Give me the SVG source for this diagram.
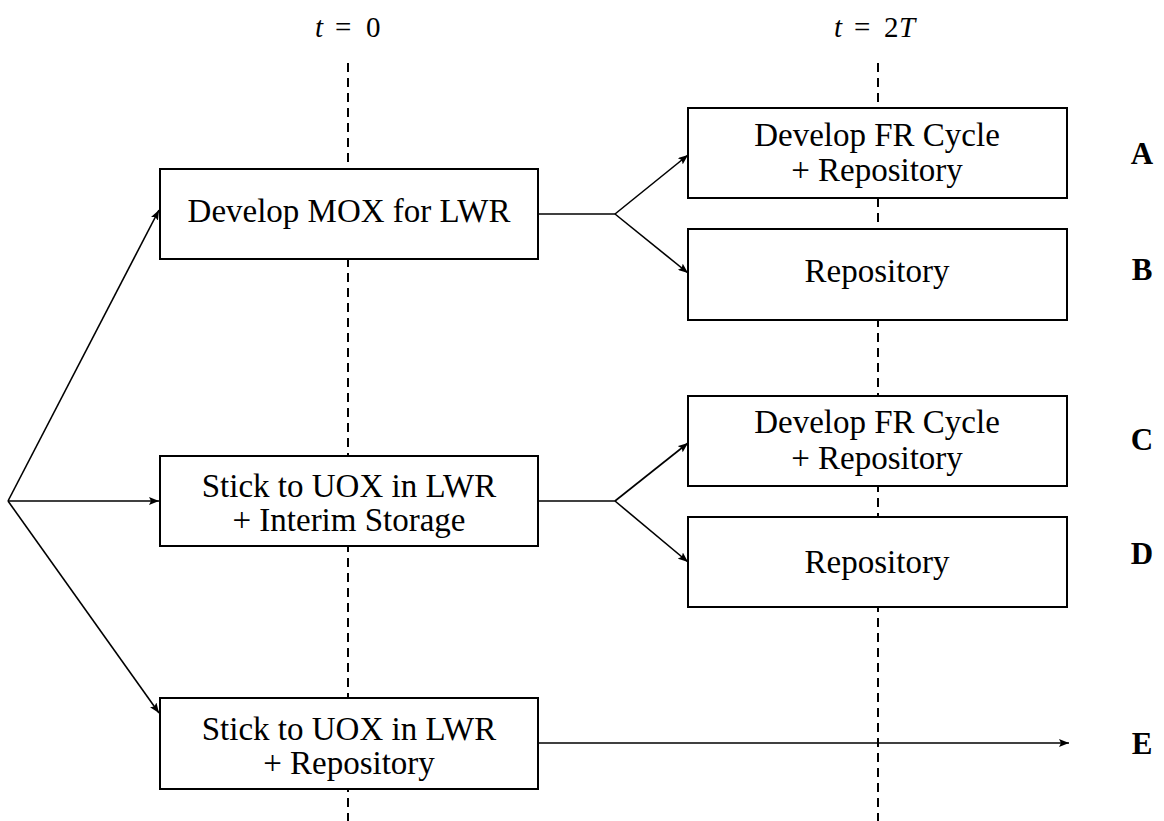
<svg xmlns="http://www.w3.org/2000/svg" width="1164" height="821" viewBox="0 0 1164 821">
  <style>
    .guide { stroke: #000; stroke-width: 2; stroke-dasharray: 9 6; fill: none; }
    .box { fill: #fff; stroke: #000; stroke-width: 2; }
    .lbl { font-family: "Liberation Serif", "DejaVu Serif", serif; font-size: 33px; fill: #000; text-anchor: middle; }
    .time { font-family: "Liberation Serif", serif; font-size: 29px; fill: #000; }
    .tag { font-family: "Liberation Serif", serif; font-size: 31px; font-weight: bold; fill: #000; text-anchor: middle; }
    .edge { stroke: #000; stroke-width: 1.6; fill: none; }
  </style>
  <defs>
    <marker id="arrow" viewBox="0 0 10 8" refX="10" refY="4" markerWidth="10" markerHeight="8" markerUnits="userSpaceOnUse" orient="auto">
      <path d="M0,0 L10,4 L0,8 L2,4 Z" fill="#000"/>
    </marker>
  </defs>

  <!-- time axis labels -->
  <g id="time-labels">
    <text class="time" y="37"><tspan x="315" font-style="italic">t</tspan><tspan x="335">=</tspan><tspan x="366">0</tspan></text>
    <text class="time" y="37"><tspan x="834" font-style="italic">t</tspan><tspan x="854">=</tspan><tspan x="884">2</tspan><tspan x="899" font-style="italic">T</tspan></text>
  </g>

  <!-- dashed time guides -->
  <g id="guides">
    <line class="guide" x1="348" y1="63" x2="348" y2="821"/>
    <line class="guide" x1="878" y1="63" x2="878" y2="821"/>
  </g>

  <!-- connectors -->
  <g id="connectors">
    <line class="edge" x1="8" y1="501" x2="159" y2="210" marker-end="url(#arrow)"/>
    <line class="edge" x1="8" y1="501" x2="159" y2="501" marker-end="url(#arrow)"/>
    <line class="edge" x1="8" y1="501" x2="159" y2="713" marker-end="url(#arrow)"/>

    <line class="edge" x1="538" y1="214" x2="615" y2="214"/>
    <line class="edge" x1="615" y1="214" x2="688" y2="155" marker-end="url(#arrow)"/>
    <line class="edge" x1="615" y1="214" x2="688" y2="273" marker-end="url(#arrow)"/>

    <line class="edge" x1="538" y1="501" x2="615" y2="501"/>
    <line class="edge" x1="615" y1="501" x2="688" y2="443" marker-end="url(#arrow)"/>
    <line class="edge" x1="615" y1="501" x2="688" y2="562" marker-end="url(#arrow)"/>

    <line class="edge" x1="538" y1="743" x2="1069" y2="743" marker-end="url(#arrow)"/>
  </g>

  <!-- decision nodes at t = 0 -->
  <g id="node-mox">
    <rect class="box" x="160" y="169" width="378" height="90"/>
    <text class="lbl" x="349" y="222">Develop MOX for LWR</text>
  </g>
  <g id="node-uox-interim">
    <rect class="box" x="160" y="456" width="378" height="90"/>
    <text class="lbl" x="349" y="497">Stick to UOX in LWR</text>
    <text class="lbl" x="349" y="531">+ Interim Storage</text>
  </g>
  <g id="node-uox-repo">
    <rect class="box" x="160" y="698" width="378" height="91"/>
    <text class="lbl" x="349" y="740">Stick to UOX in LWR</text>
    <text class="lbl" x="349" y="774">+ Repository</text>
  </g>

  <!-- decision nodes at t = 2T -->
  <g id="node-a">
    <rect class="box" x="688" y="108" width="379" height="90"/>
    <text class="lbl" x="877" y="146">Develop FR Cycle</text>
    <text class="lbl" x="877" y="181">+ Repository</text>
  </g>
  <g id="node-b">
    <rect class="box" x="688" y="229" width="379" height="91"/>
    <text class="lbl" x="877" y="282">Repository</text>
  </g>
  <g id="node-c">
    <rect class="box" x="688" y="396" width="379" height="90"/>
    <text class="lbl" x="877" y="433">Develop FR Cycle</text>
    <text class="lbl" x="877" y="469">+ Repository</text>
  </g>
  <g id="node-d">
    <rect class="box" x="688" y="517" width="379" height="90"/>
    <text class="lbl" x="877" y="573">Repository</text>
  </g>

  <!-- scenario tags -->
  <g id="tags">
    <text class="tag" x="1142" y="164">A</text>
    <text class="tag" x="1142" y="280">B</text>
    <text class="tag" x="1142" y="450">C</text>
    <text class="tag" x="1142" y="564">D</text>
    <text class="tag" x="1142" y="754">E</text>
  </g>
</svg>
